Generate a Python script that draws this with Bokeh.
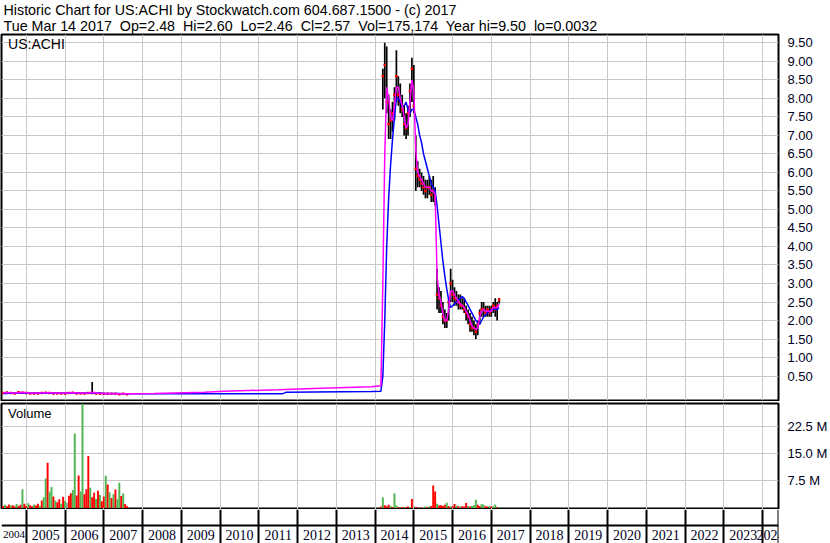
from bokeh.plotting import figure
from bokeh.layouts import column
from bokeh.models import (Range1d, FixedTicker, LinearAxis, NumeralTickFormatter,
                          Grid, Label, LabelSet, Span, ColumnDataSource)
from bokeh.embed import file_html
from bokeh.resources import INLINE

FONT = "Liberation Sans"
TEXT_COLOR = "#000022"
GRID_COLOR = "#c8c8c8"
UP, DOWN, FLAT = "#50b450", "#ff0000", "#a0a0a0"
NBSP = "\u00a0"


def timeline(start, count, step):
    return [round(start + i * step, 3) for i in range(count)]


# ---- header ----
title_line1 = "Historic Chart for US:ACHI by Stockwatch.com 604.687.1500 - (c) 2017"
title_fields = ["Tue Mar 14 2017", "Op=2.48", "Hi=2.60", "Lo=2.46", "Cl=2.57",
                "Vol=175,174", "Year hi=9.50", "lo=0.0032"]
title_line2 = (NBSP + " ").join(title_fields)
symbol = "US:ACHI"

# ---- axes ----
years = list(range(2005, 2025))
year_labels = [str(y) for y in range(2004, 2025)]
price_ticks = [0.5, 1.0, 1.5, 2.0, 2.5, 3.0, 3.5, 4.0, 4.5, 5.0,
               5.5, 6.0, 6.5, 7.0, 7.5, 8.0, 8.5, 9.0, 9.5]
vol_ticks = [7.5, 15.0, 22.5]
vol_tick_labels = ["7.5 M", "15.0 M", "22.5 M"]

# ---- early trading (2004-2007), prices in $ ----
early_t = timeline(2004.4, 33, 0.1)
early_hi = [0.06, 0.08, 0.06, 0.05, 0.09, 0.07, 0.06, 0.05, 0.04, 0.05,
            0.06, 0.07, 0.05, 0.04, 0.05, 0.05, 0.04, 0.06, 0.07, 0.05,
            0.05, 0.04, 0.06, 0.34, 0.05, 0.04, 0.04, 0.03, 0.03, 0.03,
            0.02, 0.03, 0.02]
early_lo = [0.02, 0.03, 0.02, 0.02, 0.03, 0.03, 0.02, 0.02, 0.01, 0.02,
            0.02, 0.03, 0.02, 0.01, 0.02, 0.02, 0.01, 0.02, 0.03, 0.02,
            0.02, 0.01, 0.02, 0.02, 0.02, 0.01, 0.01, 0.01, 0.01, 0.01,
            0.01, 0.01, 0.01]
early_cl = [0.04, 0.05, 0.04, 0.03, 0.06, 0.05, 0.04, 0.03, 0.03, 0.03,
            0.04, 0.05, 0.04, 0.03, 0.03, 0.03, 0.03, 0.04, 0.05, 0.03,
            0.03, 0.03, 0.04, 0.04, 0.03, 0.02, 0.02, 0.02, 0.02, 0.02,
            0.01, 0.02, 0.01]
early_ma_short = [0.04, 0.05, 0.05, 0.04, 0.05, 0.06, 0.05, 0.04, 0.04, 0.04,
                  0.04, 0.05, 0.05, 0.04, 0.04, 0.04, 0.04, 0.04, 0.05, 0.04,
                  0.04, 0.04, 0.04, 0.06, 0.05, 0.03, 0.03, 0.03, 0.02, 0.02,
                  0.02, 0.02, 0.02]
early_ma_long = [0.03, 0.03, 0.04, 0.04, 0.04, 0.04, 0.04, 0.04, 0.04, 0.04,
                 0.04, 0.04, 0.04, 0.04, 0.04, 0.04, 0.04, 0.04, 0.04, 0.04,
                 0.04, 0.04, 0.04, 0.04, 0.04, 0.04, 0.03, 0.03, 0.03, 0.03,
                 0.03, 0.02, 0.02]

# ---- sparse quotes between listings ----
gap_short_t = [2008.3, 2009.6, 2010.1, 2011.5, 2012.6, 2013.9, 2014.15]
gap_short = [0.03, 0.06, 0.09, 0.13, 0.17, 0.21, 0.24]
gap_long_t = [2009.6, 2011.6, 2011.7, 2013.9, 2014.15]
gap_long = [0.02, 0.02, 0.06, 0.08, 0.09]

# ---- recent trading (2014-2017) ----
late_t = timeline(2014.2, 61, 0.05)
late_hi = [8.80, 9.50, 9.40, 8.10, 7.70, 7.90, 8.30, 9.30, 8.60, 8.40,
           8.10, 7.80, 7.60, 7.80, 8.40, 9.10, 8.90, 7.00, 6.30, 6.10,
           6.00, 5.90, 5.80, 5.80, 5.90, 5.80, 5.90, 5.60, 3.40, 2.90,
           2.80, 2.50, 2.30, 2.20, 2.60, 3.40, 3.10, 2.90, 2.80, 2.70,
           2.70, 2.60, 2.60, 2.40, 2.30, 2.20, 2.10, 2.00, 1.90, 2.00,
           2.30, 2.50, 2.50, 2.40, 2.40, 2.40, 2.40, 2.50, 2.60, 2.50,
           2.60]
late_lo = [7.70, 8.00, 7.60, 6.90, 6.90, 7.10, 7.40, 7.90, 7.80, 7.60,
           7.50, 7.00, 6.90, 7.00, 7.50, 7.90, 7.60, 5.50, 5.60, 5.60,
           5.50, 5.40, 5.30, 5.30, 5.40, 5.20, 5.20, 5.10, 2.30, 2.20,
           2.20, 1.90, 1.80, 1.80, 2.00, 2.50, 2.50, 2.40, 2.40, 2.30,
           2.30, 2.30, 2.20, 2.00, 1.90, 1.70, 1.70, 1.60, 1.50, 1.60,
           1.90, 2.10, 2.10, 2.10, 2.10, 2.10, 2.10, 2.20, 2.10, 2.00,
           2.46]
late_cl = [8.60, 8.90, 7.90, 7.30, 7.40, 7.60, 8.10, 8.60, 8.10, 7.90,
           7.70, 7.30, 7.20, 7.60, 8.20, 8.80, 7.80, 6.10, 5.90, 5.80,
           5.70, 5.60, 5.50, 5.60, 5.60, 5.40, 5.50, 5.30, 2.70, 2.60,
           2.40, 2.10, 2.00, 2.00, 2.50, 3.00, 2.70, 2.60, 2.50, 2.50,
           2.40, 2.40, 2.30, 2.20, 2.10, 1.90, 1.80, 1.80, 1.70, 1.90,
           2.20, 2.30, 2.30, 2.20, 2.30, 2.20, 2.30, 2.40, 2.30, 2.40,
           2.57]
late_ma_short = [3.00, 6.50, 8.30, 8.00, 7.50, 7.40, 7.80, 8.30, 8.30, 8.00,
                 7.80, 7.50, 7.20, 7.30, 7.90, 8.50, 8.20, 6.60, 6.00, 5.90,
                 5.80, 5.70, 5.60, 5.60, 5.60, 5.50, 5.50, 5.40, 3.20, 2.70,
                 2.50, 2.20, 2.00, 2.00, 2.30, 2.80, 2.80, 2.70, 2.60, 2.50,
                 2.45, 2.40, 2.35, 2.25, 2.15, 2.00, 1.85, 1.80, 1.75, 1.80,
                 2.10, 2.25, 2.30, 2.25, 2.25, 2.25, 2.25, 2.35, 2.35, 2.35,
                 2.45]
late_ma_long = [0.50, 2.00, 4.00, 5.30, 6.20, 6.90, 7.50, 8.00, 8.00, 7.90,
                7.80, 7.80, 7.90, 7.70, 7.60, 7.70, 7.70, 7.50, 7.30, 7.00,
                6.80, 6.50, 6.30, 6.10, 5.90, 5.70, 5.60, 5.50, 5.10, 4.60,
                4.10, 3.60, 3.20, 2.85, 2.55, 2.35, 2.40, 2.45, 2.50, 2.55,
                2.60, 2.65, 2.60, 2.50, 2.40, 2.30, 2.20, 2.10, 2.00, 1.95,
                1.90, 2.00, 2.10, 2.15, 2.20, 2.25, 2.30, 2.30, 2.30, 2.30,
                2.35]

# ---- volume, millions of shares; g = up, r = down, n = unchanged ----
early_vol_t = timeline(2004.4, 65, 0.05)
early_vol = [0.6, 0.9, 0.5, 1.0, 0.7, 0.8, 0.5, 1.1, 0.6, 0.9,
             5.2, 1.2, 0.6, 1.3, 0.8, 0.5, 1.0, 0.7, 1.2, 0.6,
             2.1, 3.0, 8.2, 12.5, 4.5, 5.8, 3.2, 2.1, 1.6, 2.4,
             1.2, 3.1, 2.0, 1.5, 3.4, 4.1, 5.0, 20.6, 3.5, 9.0,
             4.6, 29.5, 3.8, 5.2, 14.4, 5.6, 3.0, 4.2, 2.5, 4.8,
             3.6, 1.9, 3.2, 8.9, 6.5, 4.4, 2.8, 3.9, 5.1, 2.4,
             7.0, 3.3, 4.0, 1.1, 0.5]
early_dir = list("rgrrgrrgrr" "grrgrrgrrg" "rggrggrgrr" "grgnrrggrr"
                 "ggrrrgrrgr" "grrgrgrgrg" "grgrr")
late_vol_t = timeline(2014.15, 62, 0.05)
late_vol = [0.4, 3.0, 0.8, 0.5, 0.9, 0.6, 0.3, 4.1, 0.7, 0.3,
            0.2, 0.3, 0.2, 0.2, 0.4, 0.3, 2.5, 0.4, 0.3, 0.2,
            0.3, 0.2, 0.3, 0.4, 0.3, 0.5, 0.6, 6.2, 4.6, 1.2,
            0.7, 0.8, 0.6, 0.9, 1.5, 0.6, 0.4, 0.5, 1.1, 0.7,
            0.5, 0.4, 0.5, 0.4, 1.4, 0.6, 0.4, 0.6, 0.8, 2.3,
            0.9, 0.6, 1.1, 0.9, 0.5, 0.4, 0.6, 0.4, 0.5, 1.0,
            0.3, 0.2]
late_dir = list("rgrrrgrggr" "grgrrgrnrr" "grngrgrrrg" "rrrrgrgrrg"
                "rgrrrgrggg" "rrggrrgrgg" "rg")

DIR_COLORS = {"g": UP, "r": DOWN, "n": FLAT}

x_range = Range1d(2004.36, 2024.41)


def panel(height, y_range, top, bottom, title=None, outline=True):
    f = figure(width=830, height=height, x_range=x_range, y_range=y_range,
               title=title, output_backend="svg", toolbar_location=None,
               x_axis_location=None, y_axis_location=None,
               min_border_left=1, min_border_right=48,
               min_border_top=top, min_border_bottom=bottom)
    f.grid.visible = False
    f.outline_line_color = "black" if outline else None
    f.outline_line_width = 2
    f.outline_line_alpha = 1.0
    f.background_fill_color = "white"
    f.border_fill_color = "white"
    return f


def right_axis(f, ticks, **kw):
    ax = LinearAxis(ticker=FixedTicker(ticks=ticks), axis_line_color=None,
                    major_tick_line_color=None, minor_tick_line_color=None,
                    major_label_standoff=3, major_label_text_font=FONT,
                    major_label_text_font_size="13px",
                    major_label_text_color=TEXT_COLOR,
                    major_label_text_baseline="top", **kw)
    f.add_layout(ax, "right")
    return ax


def grids(f, hticks):
    f.add_layout(Grid(dimension=0, ticker=FixedTicker(ticks=years),
                      grid_line_color=GRID_COLOR, grid_line_width=1))
    f.add_layout(Grid(dimension=1, ticker=FixedTicker(ticks=hticks),
                      grid_line_color=GRID_COLOR, grid_line_width=1))


# ---------------- price panel ----------------
price = panel(401, Range1d(-0.16, 9.725), 0, 1,
              title=title_line1 + "\n" + title_line2)
price.title.align = "left"
price.title.offset = 2
price.title.standoff = 0
price.title.text_font = FONT
price.title.text_font_size = "14.3px"
price.title.text_font_style = "normal"
price.title.text_color = "black"
price.title.text_line_height = 1.03
grids(price, price_ticks)
right_axis(price, price_ticks, formatter=NumeralTickFormatter(format="0.00"))

for t, hi, lo, cl in ((early_t, early_hi, early_lo, early_cl),
                      (late_t, late_hi, late_lo, late_cl)):
    price.segment(x0=t, y0=lo, x1=t, y1=hi, line_color="black", line_width=1.7)
    price.scatter(x=t, y=cl, marker="square", size=2.5,
                  fill_color="red", line_color=None)

short_t = early_t + gap_short_t + late_t
short_v = early_ma_short + gap_short + late_ma_short
long_t = early_t + gap_long_t + late_t
long_v = early_ma_long + gap_long + late_ma_long
price.line(long_t, long_v, line_color="#0000ff", line_width=1.5)
price.line(short_t, short_v, line_color="#ff00ff", line_width=1.5)

price.add_layout(Label(x=2004.53, y=9.68, text=symbol, text_baseline="top",
                       text_font=FONT, text_font_size="14px",
                       text_color="black"))

# ---------------- volume panel ----------------
volume = panel(108, Range1d(-0.4, 28.9), 2, 0)
grids(volume, vol_ticks)
right_axis(volume, vol_ticks,
           major_label_overrides=dict(zip(vol_ticks, vol_tick_labels)))

for t, v, d in ((early_vol_t, early_vol, early_dir),
                (late_vol_t, late_vol, late_dir)):
    src = ColumnDataSource(dict(x=t, top=v, color=[DIR_COLORS[c] for c in d]))
    volume.vbar(x="x", top="top", bottom=0, width=0.05, source=src,
                fill_color="color", line_color=None)

volume.add_layout(Label(x=2004.53, y=28.1, text="Volume", text_baseline="top",
                        text_font=FONT, text_font_size="13px",
                        text_color="black"))

# ---------------- year strip ----------------
strip = panel(34, Range1d(0, 1), 0, 0, outline=False)
strip.add_layout(Grid(dimension=0, ticker=FixedTicker(ticks=years),
                      grid_line_color="black", grid_line_width=2))
strip.add_layout(Span(location=x_range.end, dimension="height",
                      line_color="black", line_width=2))
strip.add_layout(Span(location=0.53, dimension="width",
                      line_color="black", line_width=2))

# each year's label sits in the middle of the visible part of its column;
# the clipped first column gets a smaller face so it stays whole
label_pos, label_size = [], []
for y in range(2004, 2025):
    lo_edge = max(y, x_range.start)
    hi_edge = min(y + 1, x_range.end)
    label_pos.append((lo_edge + hi_edge) / 2)
    label_size.append("11px" if y < x_range.start else "14px")
label_src = ColumnDataSource(dict(x=label_pos, y=[0.26] * len(label_pos),
                                  text=year_labels, size=label_size))
strip.add_layout(LabelSet(x="x", y="y", text="text", source=label_src,
                          text_font_size={"field": "size"},
                          text_align="center", text_baseline="middle",
                          text_font=FONT, text_color=TEXT_COLOR))

layout = column(price, volume, strip, spacing=0)

html = file_html(layout, INLINE, title="US:ACHI historic chart")
html = html.replace("<head>", "<head><style>body{margin:0;}</style>", 1)
open("out.html", "w").write(html)
